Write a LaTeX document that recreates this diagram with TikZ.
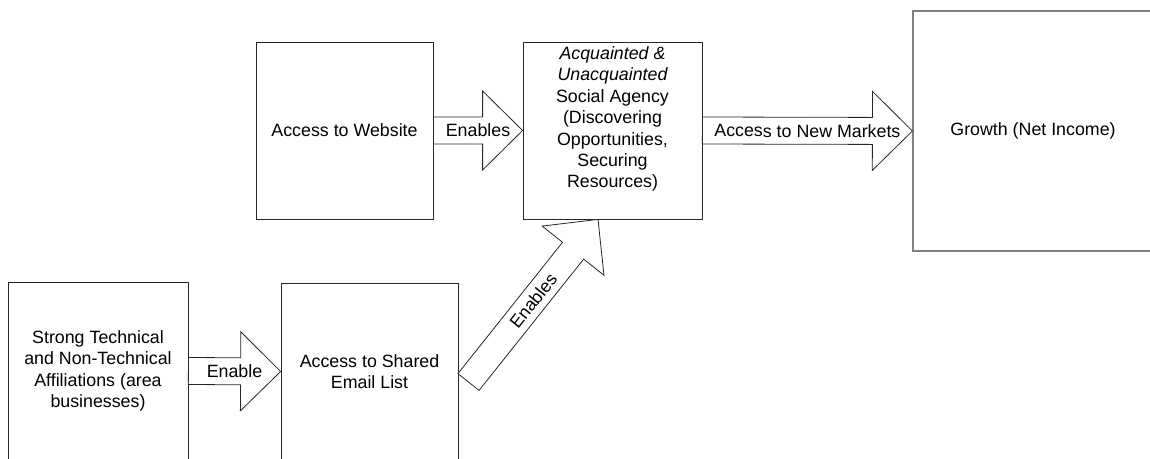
\documentclass[tikz,border=0pt]{standalone}
\usepackage{fontspec}
\setmainfont{Liberation Sans}
\usetikzlibrary{calc}

\tikzset{
  every node/.style={font=\fontsize{17.8pt}{21.4pt}\selectfont, inner sep=0pt},
  box/.style={draw=black!85, line width=0.8pt, fill=white, rectangle, align=center},
  graybox/.style={box, draw=black!50, line width=1.2pt},
  arrowline/.style={draw=black!85, line width=0.8pt, fill=white, line join=miter},
  arrowtext/.style={midway, sloped, inner sep=0pt},
}

% Block arrow from tail point #1 to tip point #2 with label #3
\newcommand{\fatarrow}[3]{%
  \coordinate (hb) at ($(#2)!40pt!(#1)$);
  \draw[arrowline]
    ($(#1)!13.5pt!90:(#2)$) -- ($(hb)!13.5pt!-90:(#1)$) --
    ($(hb)!39.5pt!-90:(#1)$) -- (#2) --
    ($(hb)!39.5pt!90:(#1)$) -- ($(hb)!13.5pt!90:(#1)$) --
    ($(#1)!13.5pt!-90:(#2)$) -- cycle;
  \path (#1) -- (#2) node[arrowtext] {#3};
}

\begin{document}
\begin{tikzpicture}[x=1pt, y=-1pt]
  \useasboundingbox (0,0) rectangle (1150,458);
  \clip (0,0) rectangle (1150,458);

  % boxes
  \node[box, minimum width=177pt, minimum height=177pt] (web) at (344.5,130.5) {Access to Website};
  \node[box, minimum width=179pt, minimum height=177pt] (soc) at (612.5,130.5) {};
  \node[align=center] (soctext) at ($(soc.center)+(0,-11.5)$)
    {\itshape Acquainted \&\\\itshape Unacquainted\\Social Agency\\(Discovering\\Opportunities,\\Securing\\Resources)};
  \node[graybox, minimum width=240pt, minimum height=240pt] (growth) at (1033,131) {Growth (Net Income)};
  \node[box, minimum width=180pt, minimum height=178pt] (strong) at (98,371)
    {Strong Technical\\and Non-Technical\\Affiliations (area\\businesses)};
  \node[box, minimum width=177pt, minimum height=177pt] (email) at (369.5,371.5)
    {Access to Shared\\Email List};

  % connectors
  \fatarrow{web.east}{soc.west}{Enables}
  \fatarrow{soc.east}{growth.west}{Access to New Markets}
  \fatarrow{strong.east}{email.west}{Enable}

  \coordinate (dtail) at (468.5,382);
  \coordinate (dtip) at ($(soc.south)+(-14.5,0)$);
  \fatarrow{dtail}{dtip}{Enables}
\end{tikzpicture}
\end{document}
